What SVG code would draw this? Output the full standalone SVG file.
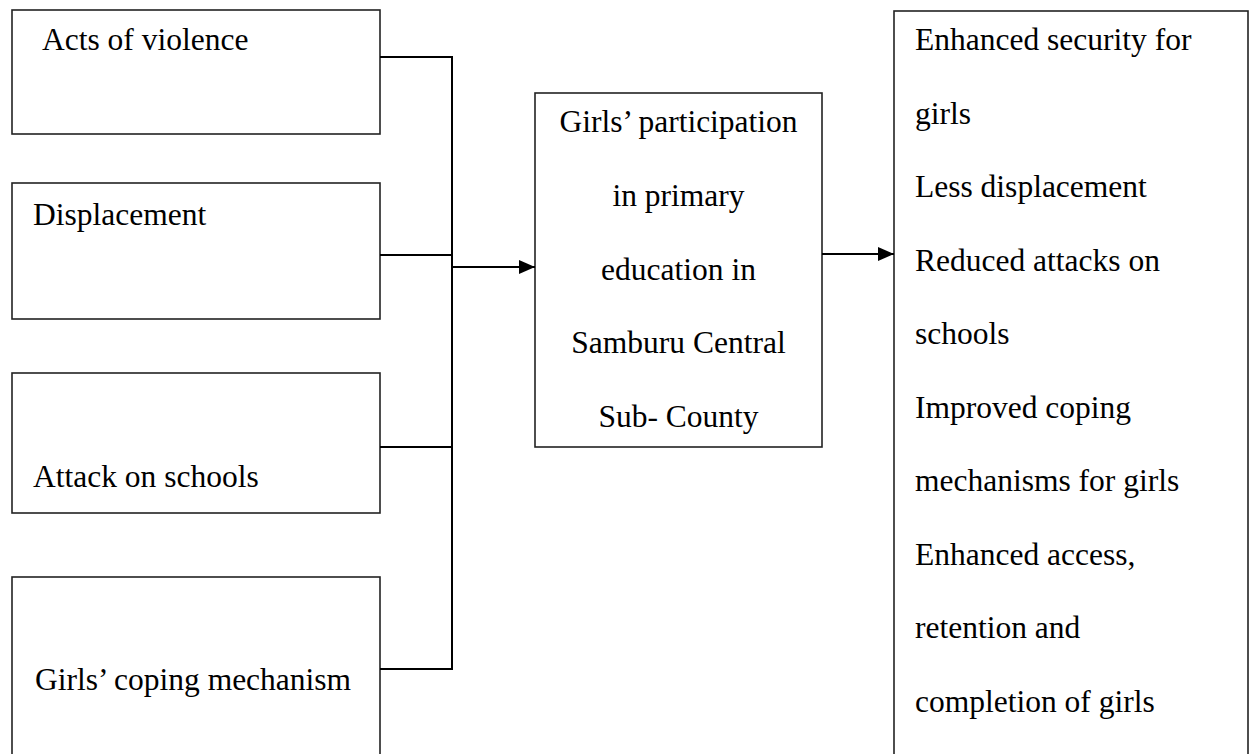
<svg xmlns="http://www.w3.org/2000/svg" width="1255" height="754" viewBox="0 0 1255 754">
<style>
.box{fill:#fff;stroke:#222;stroke-width:1.6}
.t{font-family:"Liberation Serif","Times New Roman",serif;font-size:31.5px;fill:#000}
.c{fill:none;stroke:#000;stroke-width:2}
</style>
<defs>
<marker id="ah" markerWidth="16" markerHeight="14" refX="16" refY="7" orient="auto" markerUnits="userSpaceOnUse">
<path d="M0,0 L16,7 L0,14 Z" fill="#000"/>
</marker>
</defs>
<rect width="1255" height="754" fill="#fff"/>
<g id="n-violence"><rect class="box" x="12" y="10" width="368" height="124"/><text class="t" x="42" y="50">Acts of violence</text></g>
<g id="n-displacement"><rect class="box" x="12" y="183" width="368" height="136"/><text class="t" x="33" y="225">Displacement</text></g>
<g id="n-attack"><rect class="box" x="12" y="373" width="368" height="140"/><text class="t" x="33" y="487">Attack on schools</text></g>
<g id="n-coping"><rect class="box" x="12" y="577" width="368" height="190"/><text class="t" x="35" y="690">Girls’ coping mechanism</text></g>
<g id="n-participation"><rect class="box" x="535" y="93" width="287" height="354"/>
<text class="t" text-anchor="middle"><tspan x="678.5" y="132">Girls’ participation</tspan><tspan x="678.5" y="206">in primary</tspan><tspan x="678.5" y="280">education in</tspan><tspan x="678.5" y="353">Samburu Central</tspan><tspan x="678.5" y="427">Sub- County</tspan></text></g>
<g id="n-outcomes"><rect class="box" x="894" y="11" width="354" height="760"/>
<text class="t"><tspan x="915" y="50">Enhanced security for</tspan><tspan x="915" y="123.5">girls</tspan><tspan x="915" y="197">Less displacement</tspan><tspan x="915" y="270.5">Reduced attacks on</tspan><tspan x="915" y="344">schools</tspan><tspan x="915" y="417.5">Improved coping</tspan><tspan x="915" y="491">mechanisms for girls</tspan><tspan x="915" y="564.5">Enhanced access,</tspan><tspan x="915" y="638">retention and</tspan><tspan x="915" y="711.5">completion of girls</tspan></text></g>
<g id="connectors">
<path class="c" d="M380,57 H452 M380,255 H452 M380,447 H452 M380,669 H452 M452,56 V670"/>
<path class="c" d="M452,267 H535" marker-end="url(#ah)"/>
<path class="c" d="M822,254 H894" marker-end="url(#ah)"/>
</g>
</svg>
